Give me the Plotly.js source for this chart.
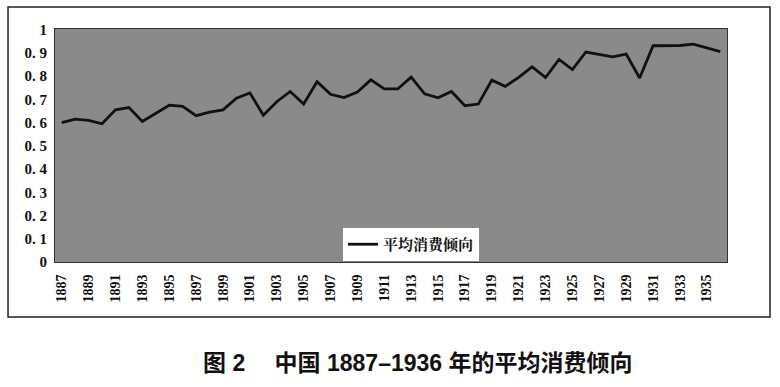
<!DOCTYPE html>
<html><head><meta charset="utf-8">
<script src="https://cdn.plot.ly/plotly-3.0.1.min.js"></script>
<style>html,body{margin:0;padding:0;background:#fff;}#chart{width:780px;height:387px;}</style>
</head><body><div id="chart"></div>
<script>
const years = ["1887","1888","1889","1890","1891","1892","1893","1894","1895","1896","1897","1898","1899","1900","1901","1902","1903","1904","1905","1906","1907","1908","1909","1910","1911","1912","1913","1914","1915","1916","1917","1918","1919","1920","1921","1922","1923","1924","1925","1926","1927","1928","1929","1930","1931","1932","1933","1934","1935","1936"];
const apc = [0.600,0.615,0.610,0.595,0.655,0.665,0.605,0.640,0.675,0.670,0.630,0.645,0.655,0.705,0.728,0.632,0.690,0.734,0.680,0.776,0.722,0.708,0.732,0.784,0.745,0.745,0.796,0.724,0.707,0.734,0.673,0.680,0.783,0.756,0.795,0.840,0.794,0.872,0.828,0.904,0.892,0.883,0.895,0.792,0.931,0.931,0.932,0.938,0.921,0.906];
const xTickLabels = ["1887","1889","1891","1893","1895","1897","1899","1901","1903","1905","1907","1909","1911","1913","1915","1917","1919","1921","1923","1925","1927","1929","1931","1933","1935"];
const yTickVals = [0,0.1,0.2,0.3,0.4,0.5,0.6,0.7,0.8,0.9,1];
const yTickLabels = ["0","0. 1","0. 2","0. 3","0. 4","0. 5","0. 6","0. 7","0. 8","0. 9","1"];
const seriesName = "平均消费倾向";
const caption = "图 2\u3000 中国 1887–1936 年的平均消费倾向";

const serif = "Liberation Serif, Noto Serif CJK SC, serif";
const trace = {
  x: years, y: apc, type: "scatter", mode: "lines", name: seriesName,
  line: {color: "#111", width: 2.8}
};
const layout = {
  width: 780, height: 387,
  margin: {l: 55, r: 53, t: 29, b: 125},
  paper_bgcolor: "#fff", plot_bgcolor: "#8a8a8a",
  showlegend: true,
  legend: {x: (343 - 55) / 672, y: 0.146, xanchor: "left", yanchor: "top", bgcolor: "#fff",
    font: {family: "Noto Serif CJK SC, Noto Sans CJK SC, serif", size: 15, color: "#111", weight: "bold"},
    borderwidth: 0, itemwidth: 30, tracegroupgap: 0},
  xaxis: {type: "category", range: [-0.5, 49.5], tickmode: "array", tickvals: xTickLabels, ticktext: xTickLabels,
    tickangle: -90, showgrid: false, zeroline: false, ticks: "", showline: true, linecolor: "#333", linewidth: 1, mirror: true,
    ticklabelstandoff: 6,
    tickfont: {family: serif, size: 14, color: "#111", weight: "bold"}, fixedrange: true},
  yaxis: {range: [0, 1.003], tickmode: "array", tickvals: yTickVals, ticktext: yTickLabels,
    showgrid: false, zeroline: false, ticks: "", showline: true, linecolor: "#333", linewidth: 1, mirror: true,
    ticklabelstandoff: 4,
    tickfont: {family: serif, size: 15, color: "#111", weight: "bold"}, fixedrange: true},
  shapes: [{type: "rect", xref: "paper", yref: "paper", x0: -0.0699, x1: 1.064, y0: -0.236, y1: 1.094,
    line: {color: "#222", width: 1.5}, fillcolor: "rgba(0,0,0,0)"}],
  annotations: [{text: caption, xref: "paper", yref: "paper", x: 0.539, y: -0.433, xanchor: "center", yanchor: "middle",
    showarrow: false, font: {family: "Liberation Sans, Noto Sans CJK SC, sans-serif", size: 23, color: "#111", weight: "bold"}}]
};
Plotly.newPlot("chart", [trace], layout, {displayModeBar: false, staticPlot: true});
</script></body></html>
